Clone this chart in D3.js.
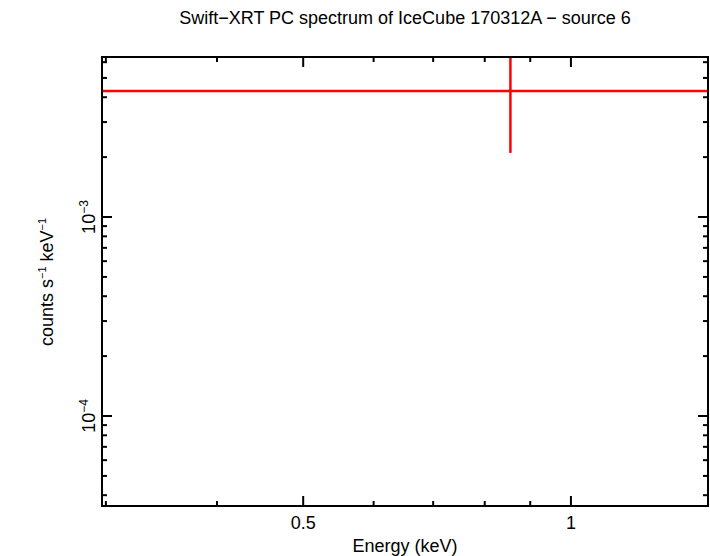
<!DOCTYPE html>
<html><head><meta charset="utf-8">
<script src="https://cdn.jsdelivr.net/npm/d3@7"></script>
<style>body{margin:0;background:#fff}text{font-family:"Liberation Sans",Arial,sans-serif}</style>
</head><body><svg id="c" width="710" height="556"></svg>
<script>
const title = "Swift\u2212XRT PC spectrum of IceCube 170312A \u2212 source 6";
const xDomain = [0.297, 1.426];
const yDomain = [3.53e-5, 6.37e-3];
const xMajor = [0.5, 1];
const xMinor = [0.3, 0.4, 0.6, 0.7, 0.8, 0.9];
const yMajorExp = [-4, -3];
const energy = [0.855];
const energyLo = [0.2];
const energyHi = [2.0];
const rate = [4.3e-3];
const rateLo = [2.1e-3];
const rateHi = [8e-3];

const svg = d3.select("#c");
const L=102, R=708, T=57, B=506;
const x = d3.scaleLog().domain(xDomain).range([L,R]);
const y = d3.scaleLog().domain(yDomain).range([B,T]);

svg.append("defs").append("clipPath").attr("id","clip").append("rect")
  .attr("x",L).attr("y",T).attr("width",R-L).attr("height",B-T);
const g = svg.append("g").attr("clip-path","url(#clip)");
energy.forEach((e,i)=>{
  g.append("line").attr("x1",x(energyLo[i])).attr("x2",x(energyHi[i])).attr("y1",y(rate[i])).attr("y2",y(rate[i])).attr("stroke","#f00").attr("stroke-width",2.5);
  g.append("line").attr("x1",x(e)).attr("x2",x(e)).attr("y1",y(rateLo[i])).attr("y2",y(rateHi[i])).attr("stroke","#f00").attr("stroke-width",2.5);
});

const ax = svg.append("g").attr("stroke","#000").attr("stroke-width",2);
ax.append("rect").attr("x",L).attr("y",T).attr("width",R-L).attr("height",B-T).attr("fill","none");
function xt(v,len){ax.append("line").attr("x1",x(v)).attr("x2",x(v)).attr("y1",B).attr("y2",B-len);
  ax.append("line").attr("x1",x(v)).attr("x2",x(v)).attr("y1",T).attr("y2",T+len);}
xMajor.forEach(v=>xt(v,10)); xMinor.forEach(v=>xt(v,5));
function yt(v,len){ax.append("line").attr("y1",y(v)).attr("y2",y(v)).attr("x1",L).attr("x2",L+len);
  ax.append("line").attr("y1",y(v)).attr("y2",y(v)).attr("x1",R).attr("x2",R-len);}
for(let e=-5;e<=-2;e++){for(let m=1;m<=9;m++){const v=m*Math.pow(10,e);
  if(v>=yDomain[0]&&v<=yDomain[1]) yt(v,m===1?10:5);}}

xMajor.forEach(v=>svg.append("text").attr("x",x(v)).attr("y",529).attr("text-anchor","middle").attr("font-size",18).text(v));
yMajorExp.forEach(e=>{
  const t=svg.append("text").attr("transform",`translate(95,${y(Math.pow(10,e))}) rotate(-90)`).attr("text-anchor","middle").attr("font-size",18);
  t.append("tspan").text("10");
  t.append("tspan").attr("dy",-7).attr("font-size",12).text("\u2212"+(-e));
});
svg.append("text").attr("x",405).attr("y",552).attr("text-anchor","middle").attr("font-size",18).text("Energy (keV)");
const yl=svg.append("text").attr("transform","translate(53,282) rotate(-90)").attr("text-anchor","middle").attr("font-size",18);
yl.append("tspan").text("counts s");
yl.append("tspan").attr("dy",-7).attr("font-size",11).text("\u22121");
yl.append("tspan").attr("dy",7).text(" keV");
yl.append("tspan").attr("dy",-7).attr("font-size",11).text("\u22121");
svg.append("text").attr("x",405).attr("y",24).attr("text-anchor","middle").attr("font-size",18).text(title);
</script></body></html>
